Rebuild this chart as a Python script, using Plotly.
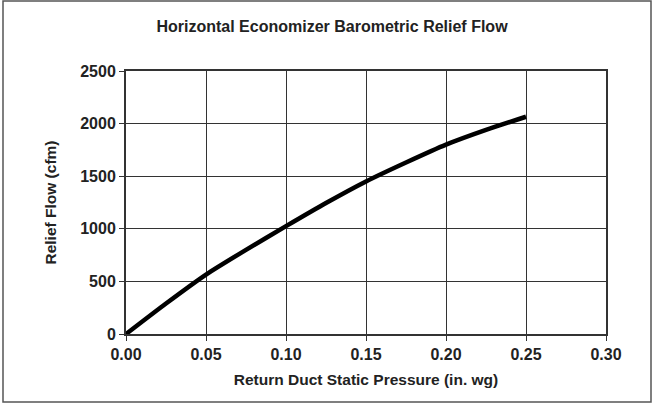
import plotly.graph_objects as go

# Relief flow versus return duct static pressure
pressure = [0.0, 0.025, 0.05, 0.075, 0.10, 0.125, 0.15, 0.175, 0.20, 0.225, 0.25]
relief_flow = [0, 290, 565, 800, 1025, 1245, 1450, 1630, 1800, 1940, 2065]

x_ticks = [0.0, 0.05, 0.10, 0.15, 0.20, 0.25, 0.30]
x_tick_text = ["0.00", "0.05", "0.10", "0.15", "0.20", "0.25", "0.30"]
y_ticks = [0, 500, 1000, 1500, 2000, 2500]

W, H = 654, 403
ML, MR, MT, MB = 126, 48, 71, 69
pw, ph = W - ML - MR, H - MT - MB

font = "Liberation Sans, Arial, Helvetica, sans-serif"
ink = "#222222"
tick_font = dict(family=font, size=16, color=ink, weight="bold")
label_font = dict(family=font, size=15.5, color=ink, weight="bold")

fig = go.Figure()
fig.add_trace(go.Scatter(
    x=pressure, y=relief_flow, mode="lines",
    line=dict(color="black", width=4.5, shape="spline", smoothing=0.6),
    hoverinfo="skip", showlegend=False,
))

axis_common = dict(
    showline=True, linecolor="#333333", linewidth=2, mirror=True,
    showgrid=True, gridcolor="#333333", gridwidth=1,
    ticks="outside", ticklen=5, tickcolor="#333333", tickwidth=1,
    zeroline=False,
    tickfont=tick_font,
)

fig.update_layout(
    width=W, height=H,
    margin=dict(l=ML, r=MR, t=MT, b=MB),
    paper_bgcolor="white", plot_bgcolor="white",
    title=dict(
        text="Horizontal Economizer Barometric Relief Flow",
        x=332 / W, xref="container", xanchor="center",
        y=1 - 26 / H, yref="container", yanchor="middle",
        font=dict(family=font, size=16, color=ink, weight="bold"),
    ),
    xaxis=dict(
        range=[0, 0.30], tickvals=x_ticks, ticktext=x_tick_text,
        title=dict(text="Return Duct Static Pressure (in. wg)",
                   font=label_font, standoff=12),
        **axis_common,
    ),
    yaxis=dict(
        range=[0, 2500], tickvals=y_ticks,
        title=dict(text="Relief Flow (cfm)",
                   font=label_font, standoff=20),
        **axis_common,
    ),
)

# Outer frame around the whole chart
fig.add_shape(
    type="rect", xref="paper", yref="paper",
    x0=(3 - ML) / pw, x1=(651 - ML) / pw,
    y0=-(402 - MT - ph) / ph, y1=1 + (MT - 1) / ph,
    line=dict(color="#555555", width=1.5), fillcolor="rgba(0,0,0,0)",
    layer="below",
)

fig.write_html("out.html")
